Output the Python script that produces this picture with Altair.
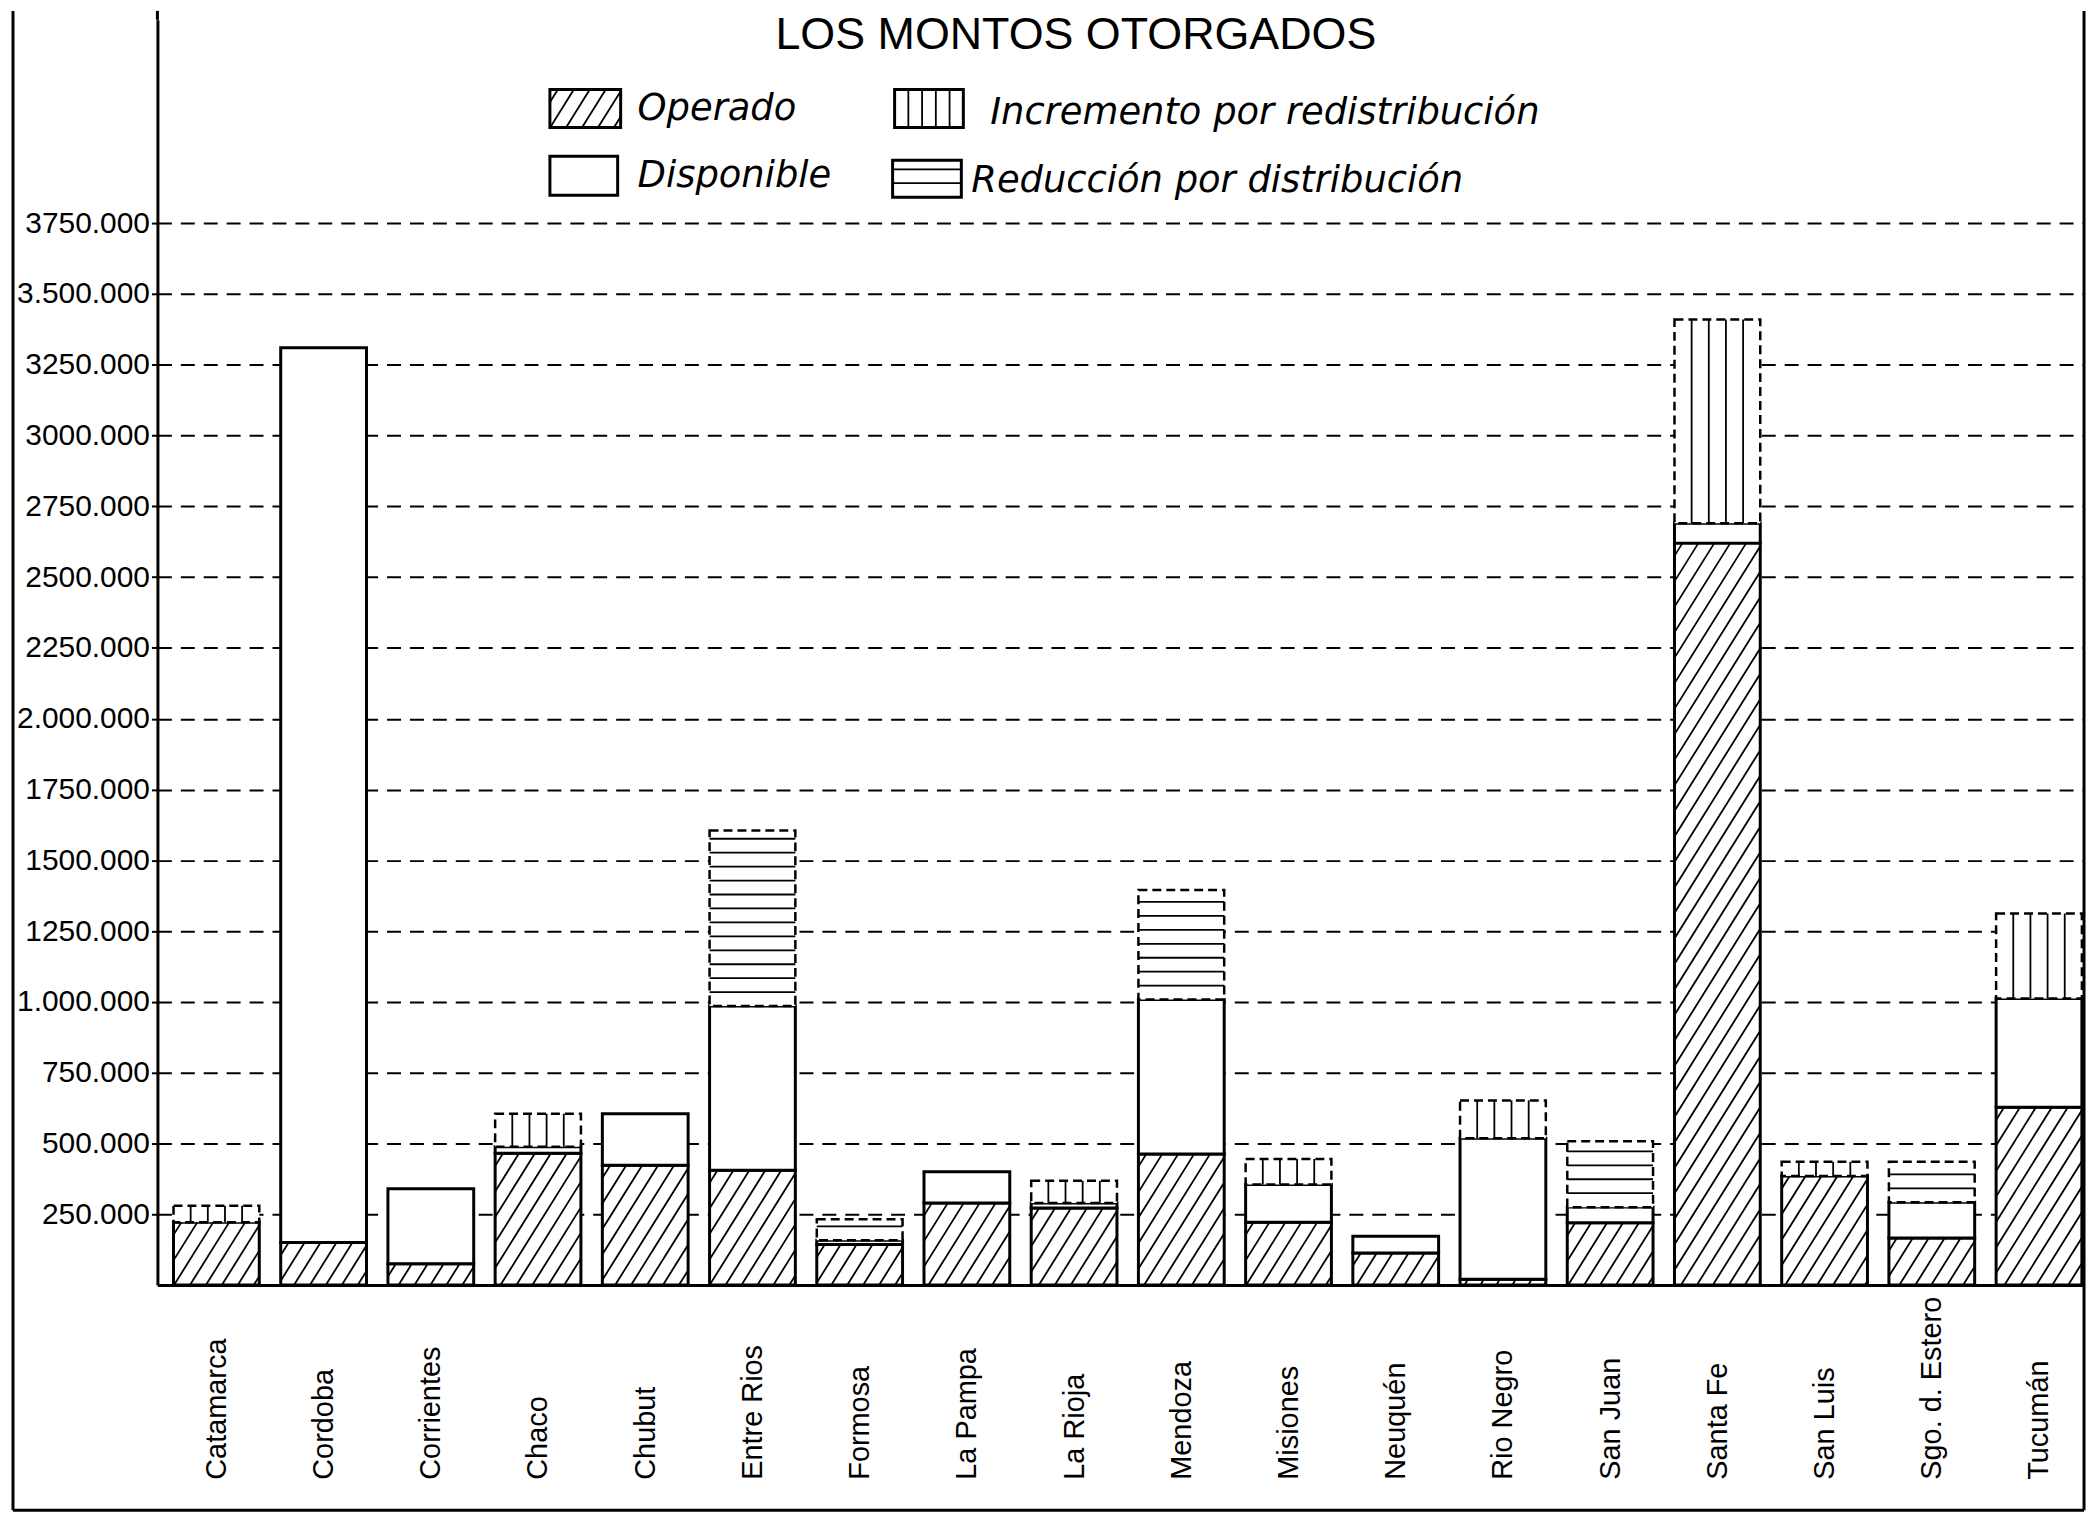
import json
import altair as alt
import numpy as np
import pandas as pd

# ---------------- data (values in thousands of pesos) ----------------
provincias = ["Catamarca", "Cordoba", "Corrientes", "Chaco", "Chubut", "Entre Rios",
              "Formosa", "La Pampa", "La Rioja", "Mendoza", "Misiones", "Neuquén",
              "Rio Negro", "San Juan", "Santa Fe", "San Luis", "Sgo. d. Estero", "Tucumán"]
operado    = [222, 150, 75, 465, 423, 405, 143, 290, 272, 463, 222, 113, 20, 220, 2620, 385, 166, 628]
disponible = [0, 3160, 265, 23, 182, 580, 15, 110, 18, 545, 133, 59, 498, 55, 70, 0, 126, 384]
incremento = [58, 0, 0, 117, 0, 0, 0, 0, 78, 0, 90, 0, 134, 0, 720, 50, 0, 300]
reduccion  = [0, 0, 0, 0, 0, 620, 74, 0, 0, 387, 0, 0, 0, 233, 0, 0, 143, 0]

y_ticks = [250000, 500000, 750000, 1000000, 1250000, 1500000, 1750000, 2000000,
           2250000, 2500000, 2750000, 3000000, 3250000, 3500000, 3750000]
y_tick_labels = ["250.000", "500.000", "750.000", "1.000.000", "1250.000", "1500.000",
                 "1750.000", "2.000.000", "2250.000", "2500.000", "2750.000", "3000.000",
                 "3250.000", "3.500.000", "3750.000"]

titulo = "LOS MONTOS OTORGADOS"
legend_labels = ["Operado", "Disponible", "Incremento por redistribución", "Reducción por distribución"]

# ---------------- layout ----------------
TOP = 9                      # plot top offset inside the svg
W_PLOT, H_PLOT = 1934, 1270
X_MIN, X_MAX = -0.55, 17.42
Y_MAX = 4468000
PXU = W_PLOT / (X_MAX - X_MIN)
PYU = H_PLOT / Y_MAX
HALF = 0.4
D = TOP - 5                  # shift of pixel-placed items relative to the first layout

SANS = "Liberation Sans, Arial, sans-serif"
LEGFONT = "DejaVu Sans, Verdana, sans-serif"


def pattern(kind, w, h):
    """texture lines inside a w x h box (px, origin bottom-left, y up)"""
    segs = []
    if kind == "Operado":
        s, step = 1.6, 16.0
        c = -h / s + step / 2
        while c < w:
            xa, xb = max(0.0, c), min(w, c + h / s)
            if xb - xa > 0.5:
                segs.append((xa, s * (xa - c), xb, s * (xb - c)))
            c += step
    elif kind == "Incremento":
        for k in range(1, 5):
            segs.append((w * k / 5, 0.0, w * k / 5, h))
    elif kind == "Reducción":
        yy = 14.0
        while yy < h - 4:
            segs.append((0.0, yy, w, yy))
            yy += 14.0
    return segs


rows, lines = [], []
for i, p in enumerate(provincias):
    base = 0.0
    for tipo, vals in [("Operado", operado), ("Disponible", disponible),
                       ("Incremento", incremento), ("Reducción", reduccion)]:
        v = vals[i] * 1000.0
        if v <= 0:
            continue
        x0, x1, y0, y1 = i - HALF, i + HALF, base, base + v
        rows.append(dict(prov=p, tipo=tipo, x0=x0, x1=x1, y0=y0, y1=y1))
        for (a, b, c, d) in pattern(tipo, (x1 - x0) * PXU, (y1 - y0) * PYU):
            lines.append(dict(x0=x0 + a / PXU, y0=y0 + b / PYU, x1=x0 + c / PXU, y1=y0 + d / PYU))
        base += v

seg = pd.DataFrame(rows)
hat = pd.DataFrame(lines)

x_expr = json.dumps(provincias, ensure_ascii=False) + "[round(datum.value)]"
y_expr = json.dumps(y_tick_labels) + "[round(datum.value/250000)-1]"

x_axis = alt.Axis(values=list(range(len(provincias))), labelExpr=x_expr, title=None,
                  labelAngle=-90, labelAlign="left", labelBaseline="middle",
                  labelPadding=195, ticks=False, tickSize=0, grid=False,
                  domainColor="black", domainWidth=3, labelFont=SANS, labelFontSize=29,
                  labelColor="black", labelFlush=False, labelOverlap=False, labelLimit=0)
y_axis = alt.Axis(values=y_ticks, labelExpr=y_expr, title=None, grid=True,
                  gridColor="black", gridDash=[14, 9], gridWidth=2, gridOpacity=1,
                  domainColor="black", domainWidth=3, tickColor="black", tickSize=6,
                  tickWidth=2, labelPadding=2, labelFont=SANS, labelFontSize=30,
                  labelColor="black", labelFlush=False, labelOverlap=False, labelLimit=0)

X = alt.X("x0:Q", scale=alt.Scale(domain=[X_MIN, X_MAX], nice=False, zero=False), axis=x_axis)
Y = alt.Y("y0:Q", scale=alt.Scale(domain=[0, Y_MAX], nice=False, zero=False), axis=y_axis)

solid = alt.Chart(seg).transform_filter(
    "datum.tipo == 'Operado' || datum.tipo == 'Disponible'"
).mark_rect(fill="white", stroke="black", strokeWidth=3).encode(x=X, x2="x1:Q", y=Y, y2="y1:Q")

dashed = alt.Chart(seg).transform_filter(
    "datum.tipo == 'Incremento' || datum.tipo == 'Reducción'"
).mark_rect(fill="white", stroke="black", strokeWidth=2.5, strokeDash=[9, 5]).encode(
    x=X, x2="x1:Q", y=Y, y2="y1:Q")

hatch = alt.Chart(hat).mark_rule(color="black", strokeWidth=1.8).encode(
    x=X, x2="x1:Q", y=Y, y2="y1:Q")

# ---------------- custom legend (pixel positions) ----------------
leg_boxes = [  # x0, y0 (top), x1, y1 (bottom) in px, kind
    (394, 74 - D, 465, 112 - D, "Operado"),
    (394, 141 - D, 462, 180 - D, "Disponible"),
    (740, 74 - D, 809, 112 - D, "Incremento"),
    (738, 145 - D, 807, 182 - D, "Reducción"),
]
lb_rows, lb_lines = [], []
for (a, b, c, d, k) in leg_boxes:
    lb_rows.append(dict(px0=a, py0=b, px1=c, py1=d, kind=k))
    for (u0, v0, u1, v1) in pattern(k, c - a, d - b):
        lb_lines.append(dict(px0=a + u0, py0=d - v0, px1=a + u1, py1=d - v1))
lb = pd.DataFrame(lb_rows)
ll = pd.DataFrame(lb_lines)

PX = alt.X("px0:Q", scale=None)
PY = alt.Y("py0:Q", scale=None)
leg_rect = alt.Chart(lb).mark_rect(fill="white", stroke="black", strokeWidth=3).encode(
    x=PX, x2="px1:Q", y=PY, y2="py1:Q")
leg_lines = alt.Chart(ll).mark_rule(color="black", strokeWidth=1.8).encode(
    x=PX, x2="px1:Q", y=PY, y2="py1:Q")

leg_text_df = pd.DataFrame(dict(px0=[482, 482, 836, 817],
                                py0=[94 - D, 161 - D, 98 - D, 166 - D], label=legend_labels))
leg_text = alt.Chart(leg_text_df).mark_text(
    font=LEGFONT, fontSize=37, fontStyle="italic", align="left", baseline="middle", color="black"
).encode(x=PX, y=PY, text="label:N")

title_df = pd.DataFrame(dict(px0=[922], py0=[-7], label=[titulo]))
title_mark = alt.Chart(title_df).mark_text(
    font=SANS, fontSize=45, align="center", baseline="top", color="black"
).encode(x=PX, y=PY, text="label:N")

# ---------------- frame ----------------
FB = 1500 - D
frame_df = pd.DataFrame(dict(px0=[-145, -145, W_PLOT, 0], py0=[-TOP, FB, -TOP, -TOP],
                             px1=[-145, W_PLOT, W_PLOT, 0], py1=[FB, FB, FB, 0]))
frame = alt.Chart(frame_df).mark_rule(color="black", strokeWidth=3).encode(
    x=PX, x2="px1:Q", y=PY, y2="py1:Q")

chart = alt.layer(solid, dashed, hatch, leg_rect, leg_lines, leg_text, title_mark, frame).properties(
    width=W_PLOT, height=H_PLOT,
    autosize=alt.AutoSizeParams(type="none"),
    padding={"left": 150, "top": TOP, "right": 8, "bottom": 236 - D},
    background="white",
).configure_view(stroke=None)

chart.save("out.html", embed_options={"renderer": "svg", "actions": False})
